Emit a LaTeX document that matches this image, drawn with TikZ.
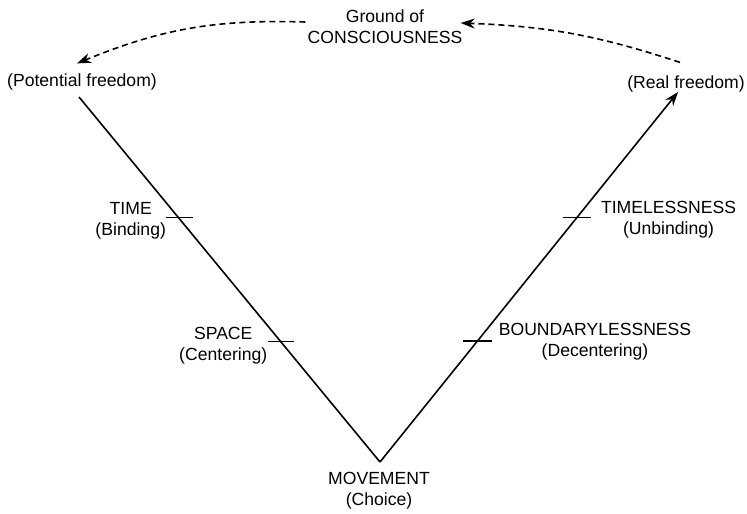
\documentclass[tikz,border=0pt]{standalone}
\usepackage{fontspec}
\setmainfont{Liberation Sans}
\usetikzlibrary{positioning,arrows.meta}

\begin{document}
\begin{tikzpicture}[
x=0.5pt,y=-0.5pt,
lbl/.style={
inner sep=0pt,
align=center,
font=\fontsize{8.8}{10.5}\selectfont
},
vline/.style={
line width=0.8pt,
draw=black
},
arrow/.style={
-{Stealth[length=7pt,width=5pt]},
line width=0.8pt,
draw=black
},
dasharrow/.style={
-{Stealth[length=7pt,width=5pt]},
line width=0.8pt,
dash pattern=on 3pt off 2pt,
draw=black
},
tick/.style={
line width=0.6pt,
draw=black
}
]

\useasboundingbox (0,0) rectangle (747,513);

\coordinate (vtx) at (380,462);
\coordinate (topL) at (79,97);
\coordinate (topR) at (678,92);

\node[lbl] (ground) at (385,27) {Ground of\\CONSCIOUSNESS};
\node[lbl] (pot) at (82,82) {(Potential freedom)};
\node[lbl] (real) at (686,84) {(Real freedom)};
\node[lbl] (move) at (379,491) {MOVEMENT\\(Choice)};

\path (topL) -- (vtx) coordinate[pos=0.33] (tTime) coordinate[pos=0.67] (tSpace);
\path (vtx) -- (topR) coordinate[pos=0.327] (tBound) coordinate[pos=0.66] (tTimeless);

\draw[vline] (topL) -- (vtx);
\draw[arrow] (vtx) -- (topR);

\draw[tick] ([xshift=-6pt]tTime) -- ([xshift=7.5pt]tTime);
\draw[tick] ([xshift=-6.5pt]tSpace) -- ([xshift=6.5pt]tSpace);
\draw[tick] ([xshift=-7pt]tTimeless) -- ([xshift=7pt]tTimeless);
\draw[tick] ([xshift=-7pt]tBound) -- ([xshift=7.5pt]tBound);

\node[lbl,left=6pt of tTime,yshift=-1.5pt] (time) {TIME\\(Binding)};
\node[lbl,left=6.5pt of tSpace,yshift=-2pt] (space) {SPACE\\(Centering)};
\node[lbl,right=12pt of tTimeless,yshift=-1pt] (timeless) {TIMELESSNESS\\(Unbinding)};
\node[lbl,right=10.5pt of tBound,yshift=-0.5pt] (bound) {BOUNDARYLESSNESS\\(Decentering)};

\draw[dasharrow] ([shift={(-1pt,2.5pt)}]ground.west) to[bend right=12] ([shift={(-2.5pt,5pt)}]pot.north);
\draw[dasharrow] ([shift={(-3pt,6.5pt)}]real.north) to[bend right=8] ([shift={(-1pt,2pt)}]ground.east);

\end{tikzpicture}
\end{document}
